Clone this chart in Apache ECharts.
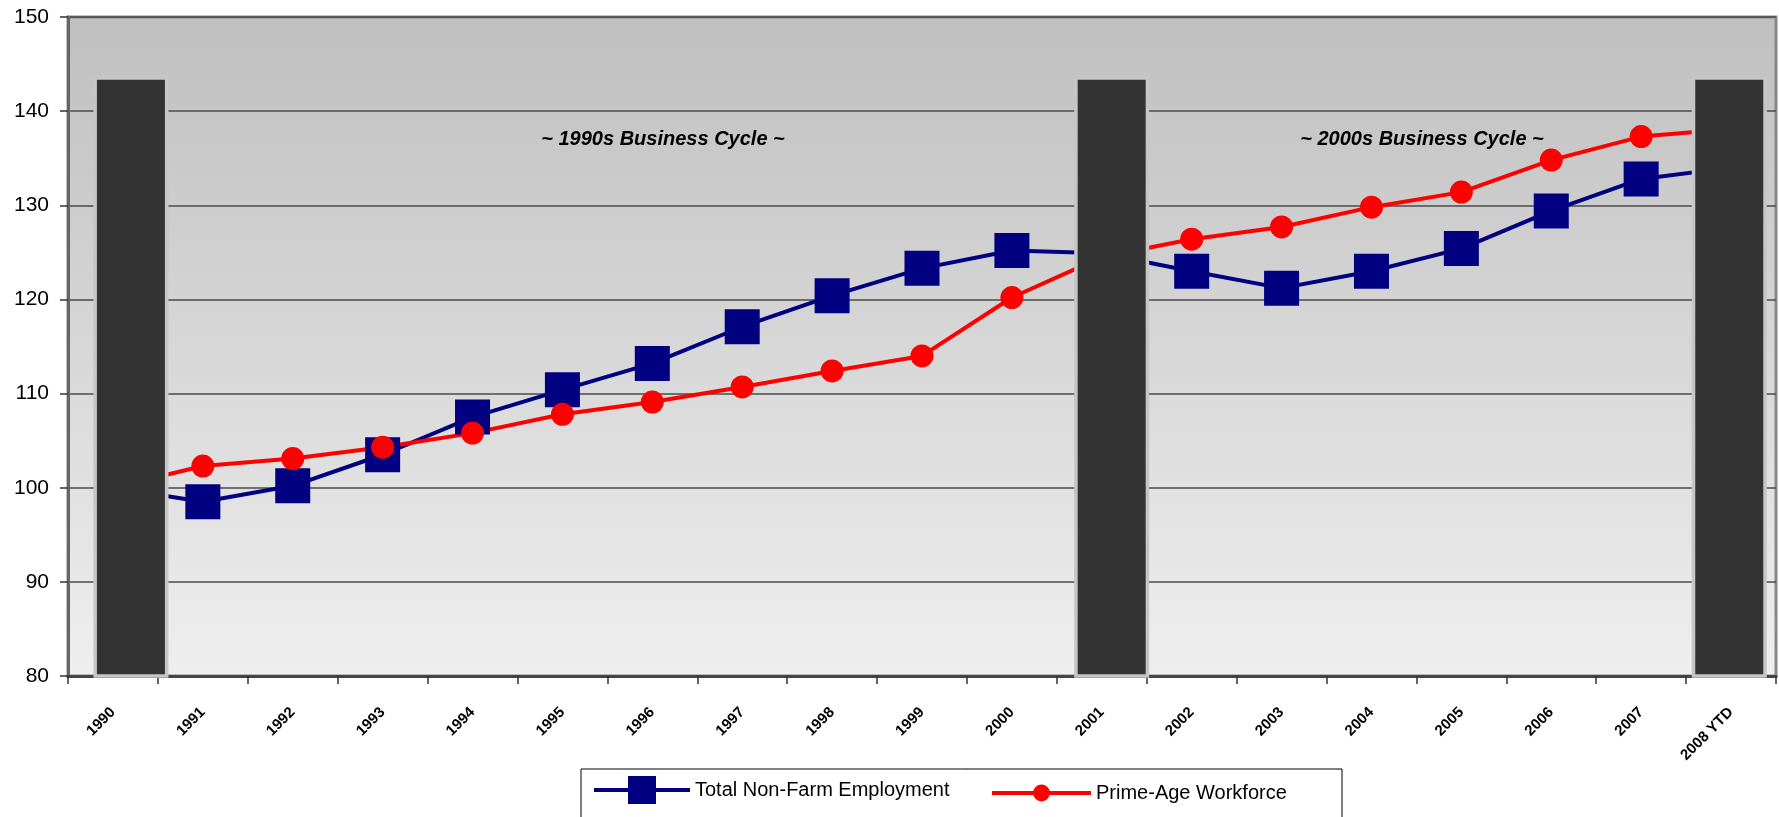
<!DOCTYPE html>
<html>
<head>
<meta charset="utf-8">
<title>Employment vs Prime-Age Workforce</title>
<script src="https://cdn.jsdelivr.net/npm/echarts@6.0.0/dist/echarts.min.js"></script>
<style>
    html, body { margin: 0; padding: 0; background: #fff; }
    #main { width: 1779px; height: 817px; }
</style>
</head>
<body>
<div id="main"></div>
<script>
// 数据
var years = ['1990', '1991', '1992', '1993', '1994', '1995', '1996', '1997', '1998', '1999',
             '2000', '2001', '2002', '2003', '2004', '2005', '2006', '2007', '2008 YTD'];
var employment = [100, 98.5, 100.2, 103.5, 107.5, 110.4, 113.2, 117.1, 120.4, 123.3,
                  125.2, 124.9, 123.0, 121.2, 123.0, 125.4, 129.4, 132.8, 134.0];
var workforce = [100, 102.3, 103.1, 104.3, 105.8, 107.8, 109.1, 110.7, 112.4, 114.0,
                 120.2, 124.5, 126.4, 127.7, 129.8, 131.4, 134.8, 137.3, 138.1];
// 衰退期阴影（年份位置、高度）
var recessionYears = [1990.70, 2001.61, 2008.48];
var recessionTop = [143.7, 143.7, 143.7];
var cycleLabels = ['~ 1990s Business Cycle ~', '~ 2000s Business Cycle ~'];
var yMin = 80, yMax = 150, yStep = 10;

var chart = echarts.init(document.getElementById('main'));

var cycleStyle = {
    align: 'center', verticalAlign: 'middle',
    fontStyle: 'italic', fontWeight: 'bold', fontSize: 20,
    fontFamily: '"Liberation Sans", Arial, sans-serif', fill: '#000'
};

var option = {
    animation: false,
    backgroundColor: '#fff',
    textStyle: { fontFamily: '"Liberation Sans", Arial, sans-serif' },
    grid: {
        left: 68, right: 3, top: 17, bottom: 141,
        show: true,
        backgroundColor: new echarts.graphic.LinearGradient(0, 0, 0, 1, [
            { offset: 0, color: '#bfbfbf' },
            { offset: 1, color: '#efefef' }
        ]),
        borderColor: '#888',
        borderWidth: 3
    },
    xAxis: [{
        type: 'category',
        data: years,
        boundaryGap: true,
        axisLine: { lineStyle: { color: '#444', width: 3 } },
        axisTick: { show: true, length: 8, lineStyle: { color: '#333', width: 1.5 } },
        axisLabel: { interval: 0, rotate: 45, margin: 34, color: '#000', fontSize: 15, fontWeight: 'bold' },
        splitLine: { show: false }
    }, {
        type: 'value',
        min: 1990,
        max: 2009,
        show: false
    }],
    yAxis: {
        type: 'value',
        min: yMin,
        max: yMax,
        interval: yStep,
        axisLine: { show: true, lineStyle: { color: '#666', width: 3 } },
        axisTick: { show: true, length: 8, lineStyle: { color: '#333', width: 1.5 } },
        axisLabel: { color: '#000', fontSize: 21, margin: 19 },
        splitLine: { show: true, lineStyle: { color: '#4a4a4a', width: 1.5 } }
    },
    legend: [{
        data: ['Total Non-Farm Employment'],
        left: 592, top: 776,
        padding: 0,
        itemWidth: 96, itemHeight: 35,
        selectedMode: false,
        lineStyle: { width: 4 },
        textStyle: { fontSize: 20, color: '#000' }
    }, {
        data: ['Prime-Age Workforce'],
        left: 990, top: 783,
        padding: 0,
        itemWidth: 99, itemHeight: 21,
        selectedMode: false,
        lineStyle: { width: 4 },
        textStyle: { fontSize: 20, color: '#000' }
    }],
    graphic: [{
        type: 'rect',
        z: 1,
        shape: { x: 581, y: 769, width: 761, height: 60 },
        style: { fill: '#fff', stroke: '#000', lineWidth: 1 }
    }, {
        type: 'text',
        z: 10,
        x: 663, y: 139,
        style: Object.assign({ text: cycleLabels[0] }, cycleStyle)
    }, {
        type: 'text',
        z: 10,
        x: 1422, y: 139,
        style: Object.assign({ text: cycleLabels[1] }, cycleStyle)
    }],
    series: [{
        name: 'Recession',
        type: 'bar',
        xAxisIndex: 1,
        data: recessionYears.map(function (x, i) { return [x, recessionTop[i]]; }),
        barWidth: 75,
        z: 5,
        silent: true,
        itemStyle: { color: '#333333', borderColor: '#c6c6c6', borderWidth: 3.5 }
    }, {
        name: 'Total Non-Farm Employment',
        type: 'line',
        data: employment,
        symbol: 'rect',
        symbolSize: 35,
        showAllSymbol: true,
        z: 3,
        itemStyle: { color: '#000080' },
        lineStyle: { color: '#000080', width: 4 }
    }, {
        name: 'Prime-Age Workforce',
        type: 'line',
        data: workforce,
        symbol: 'circle',
        symbolSize: 23,
        showAllSymbol: true,
        z: 3,
        itemStyle: { color: '#ff0000' },
        lineStyle: { color: '#ff0000', width: 4 }
    }]
};

chart.setOption(option);
</script>
</body>
</html>
